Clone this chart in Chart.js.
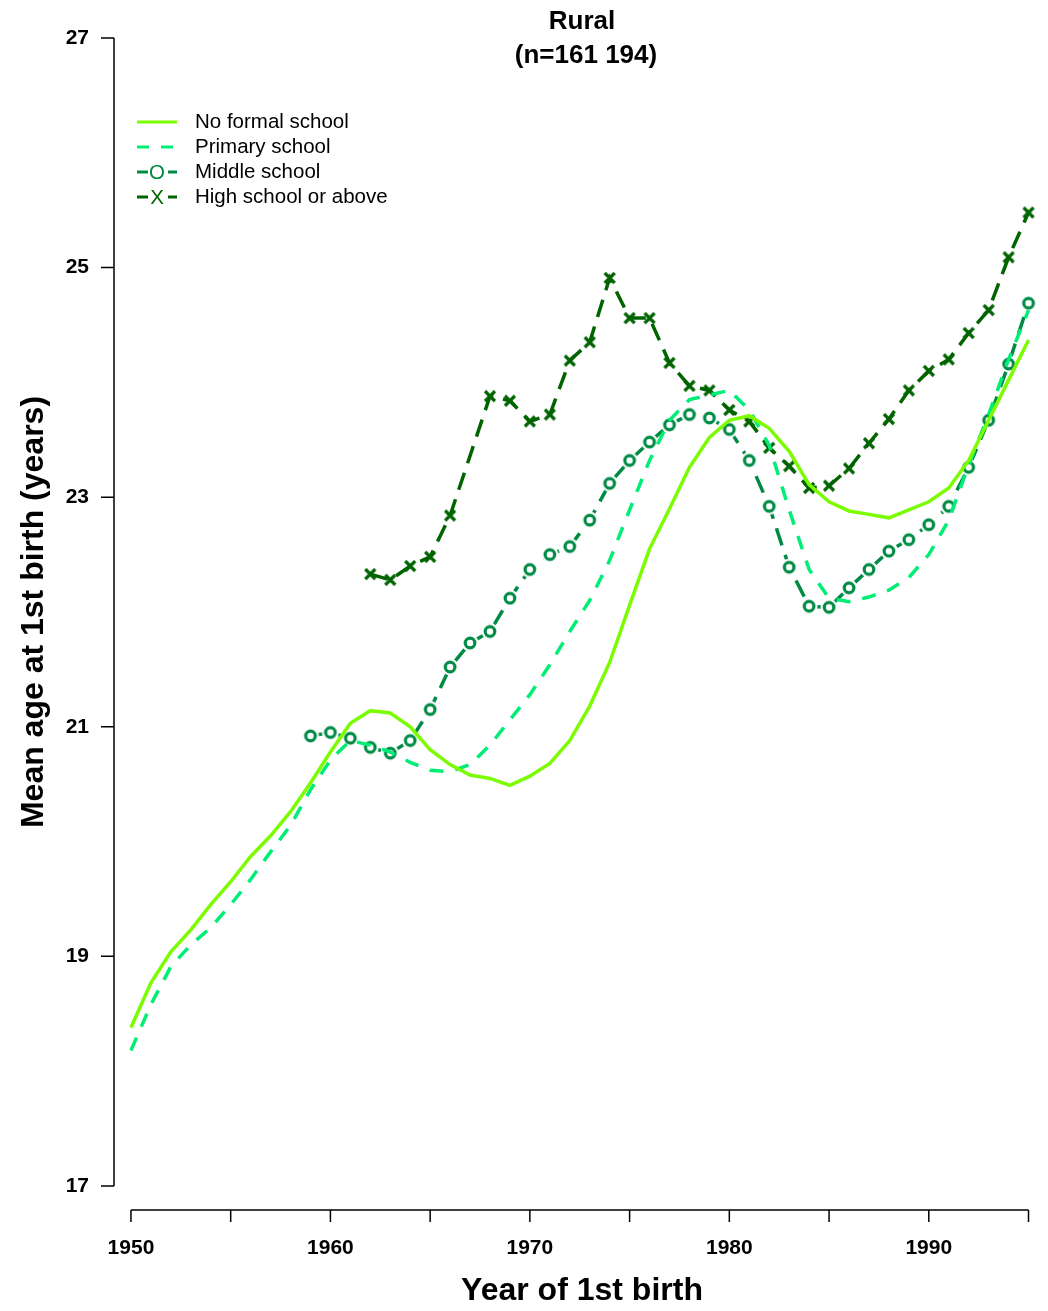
<!DOCTYPE html>
<html>
<head>
<meta charset="utf-8">
<script src="https://cdn.jsdelivr.net/npm/chart.js@4"></script>
<style>
  html, body { margin: 0; padding: 0; background: #fff; }
  #wrap { width: 1048px; height: 1311px; }
</style>
</head>
<body>
<div id="wrap"><canvas id="chart" width="1048" height="1311"></canvas></div>
<script>
// ---- data ----
const years = [];
for (let y = 1950; y <= 1995; y++) years.push(y);

const noFormal = [18.38, 18.77, 19.04, 19.23, 19.45, 19.65, 19.87, 20.05, 20.26, 20.51,
  20.78, 21.03, 21.14, 21.12, 21.0, 20.8, 20.67, 20.58, 20.55, 20.49,
  20.57, 20.68, 20.88, 21.18, 21.56, 22.06, 22.55, 22.9, 23.26, 23.52,
  23.67, 23.71, 23.6, 23.4, 23.11, 22.96, 22.88, 22.85, 22.82, 22.89,
  22.96, 23.08, 23.32, 23.67, 24.02, 24.37];
const primary = [18.18, 18.58, 18.91, 19.1, 19.25, 19.45, 19.67, 19.91, 20.14, 20.45,
  20.71, 20.88, 20.84, 20.78, 20.69, 20.62, 20.61, 20.67, 20.84, 21.06,
  21.28, 21.54, 21.83, 22.1, 22.45, 22.89, 23.32, 23.67, 23.85, 23.89,
  23.93, 23.76, 23.45, 22.89, 22.37, 22.12, 22.09, 22.13, 22.19, 22.3,
  22.5, 22.8, 23.28, 23.72, 24.2, 24.63];
const middleYears = years.filter(y => y >= 1959);
const middle = [20.92, 20.95, 20.9, 20.82, 20.77, 20.88, 21.15, 21.52, 21.73, 21.83,
  22.12, 22.37, 22.5, 22.57, 22.8, 23.12, 23.32, 23.48, 23.63, 23.72,
  23.69, 23.59, 23.32, 22.92, 22.39, 22.05, 22.04, 22.21, 22.37, 22.53,
  22.63, 22.76, 22.92, 23.26, 23.67, 24.16, 24.69];
const highYears = years.filter(y => y >= 1962);
const high = [22.33, 22.28, 22.4, 22.48, 22.84, null, 23.88, 23.84, 23.66, 23.72,
  24.19, 24.35, 24.91, 24.56, 24.56, 24.17, 23.97, 23.93, 23.76, 23.66,
  23.43, 23.27, 23.08, 23.1, 23.25, 23.47, 23.68, 23.93, 24.1, 24.2,
  24.43, 24.63, 25.09, 25.48];

const yTicks = [17, 19, 21, 23, 25, 27];
const xTicks = [1950, 1955, 1960, 1965, 1970, 1975, 1980, 1985, 1990, 1995];

const C_NO = '#7CFC00', C_PRI = '#00EE76', C_MID = '#008B45', C_HIGH = '#006400';

const pts = (xs, ys) => xs.map((x, i) => ({ x: x, y: ys[i] }));

// circle / cross markers like R pch 1 and 4
function markerCanvas(kind, color) {
  const c = document.createElement('canvas');
  c.width = 20; c.height = 20;
  const g = c.getContext('2d');
  g.strokeStyle = color; g.lineWidth = 3.2;
  if (kind === 'o') {
    g.fillStyle = '#fff';
    g.beginPath(); g.arc(10, 10, 8.5, 0, Math.PI * 2); g.fill();
    g.beginPath(); g.arc(10, 10, 4.8, 0, Math.PI * 2); g.stroke();
  } else {
    g.beginPath(); g.moveTo(5, 5); g.lineTo(15, 15);
    g.moveTo(15, 5); g.lineTo(5, 15); g.stroke();
  }
  return c;
}

// R-style axes, titles and legend
const decor = {
  id: 'decor',
  afterDraw(chart) {
    const ctx = chart.ctx, xs = chart.scales.x, ys = chart.scales.y;
    ctx.save();
    ctx.strokeStyle = '#000'; ctx.lineWidth = 1.5;
    ctx.beginPath();
    ctx.moveTo(114, ys.getPixelForValue(17)); ctx.lineTo(114, ys.getPixelForValue(27));
    ctx.moveTo(xs.getPixelForValue(1950), 1210); ctx.lineTo(xs.getPixelForValue(1995), 1210);
    yTicks.forEach(v => { const p = ys.getPixelForValue(v); ctx.moveTo(114, p); ctx.lineTo(101, p); });
    xTicks.forEach(v => { const p = xs.getPixelForValue(v); ctx.moveTo(p, 1210); ctx.lineTo(p, 1222); });
    ctx.stroke();

    ctx.fillStyle = '#000';
    ctx.font = 'bold 21px "Liberation Sans", Arial, sans-serif';
    ctx.textAlign = 'right'; ctx.textBaseline = 'middle';
    yTicks.forEach(v => ctx.fillText(String(v), 89, ys.getPixelForValue(v)));
    ctx.textAlign = 'center'; ctx.textBaseline = 'middle';
    [1950, 1960, 1970, 1980, 1990].forEach(v => ctx.fillText(String(v), xs.getPixelForValue(v), 1248));

    ctx.font = 'bold 32px "Liberation Sans", Arial, sans-serif';
    ctx.fillText('Year of 1st birth', 582, 1291);
    ctx.save();
    ctx.translate(34, 612); ctx.rotate(-Math.PI / 2);
    ctx.fillText('Mean age at 1st birth (years)', 0, 0);
    ctx.restore();

    ctx.font = 'bold 26px "Liberation Sans", Arial, sans-serif';
    ctx.fillText('Rural', 582, 22);
    ctx.fillText('(n=161 194)', 586, 56);

    // legend
    const items = [
      { t: 'No formal school', c: C_NO, d: [], m: null },
      { t: 'Primary school', c: C_PRI, d: [12, 12], m: null },
      { t: 'Middle school', c: C_MID, d: null, m: 'o' },
      { t: 'High school or above', c: C_HIGH, d: null, m: 'x' }
    ];
    ctx.font = '20.5px "Liberation Sans", Arial, sans-serif';
    ctx.textAlign = 'left';
    items.forEach((it, i) => {
      const y = 122 + i * 25;
      ctx.strokeStyle = it.c; ctx.lineWidth = 3;
      if (it.m) {
        ctx.setLineDash([]);
        ctx.beginPath(); ctx.moveTo(137, y); ctx.lineTo(148, y);
        ctx.moveTo(168, y); ctx.lineTo(177, y); ctx.stroke();
        ctx.fillStyle = it.c;
        ctx.textAlign = 'center';
        ctx.fillText(it.m === 'o' ? 'O' : 'X', 157, y + 1);
        ctx.textAlign = 'left';
      } else {
        ctx.setLineDash(it.d);
        ctx.beginPath(); ctx.moveTo(137, y); ctx.lineTo(177, y); ctx.stroke();
        ctx.setLineDash([]);
      }
      ctx.fillStyle = '#000';
      ctx.fillText(it.t, 195, y);
    });
    ctx.restore();
  }
};

new Chart(document.getElementById('chart'), {
  type: 'line',
  data: {
    datasets: [
      { data: pts(years, noFormal), borderColor: C_NO, borderWidth: 3.5, pointRadius: 0, tension: 0 },
      { data: pts(years, primary), borderColor: C_PRI, borderWidth: 3.5, borderDash: [14, 12], pointRadius: 0 },
      { data: pts(middleYears, middle), borderColor: C_MID, borderWidth: 3.5, borderDash: [18, 10],
        pointStyle: markerCanvas('o', C_MID), pointRadius: 8 },
      { data: pts(highYears, high), borderColor: C_HIGH, borderWidth: 3.5, borderDash: [18, 10], spanGaps: true,
        pointStyle: markerCanvas('x', C_HIGH), pointRadius: 8 }
    ]
  },
  options: {
    responsive: false,
    animation: false,
    layout: { padding: { top: 30, right: 8, left: 0, bottom: 0 } },
    plugins: { legend: { display: false }, tooltip: { enabled: false } },
    scales: {
      x: {
        type: 'linear', min: 1949.15, max: 1995.4,
        afterFit(s) { s.height = 101; },
        grid: { display: false }, border: { display: false },
        ticks: { display: false }
      },
      y: {
        min: 16.79, max: 27.07,
        afterFit(s) { s.width = 114; },
        grid: { display: false }, border: { display: false },
        ticks: { display: false }
      }
    }
  },
  plugins: [decor]
});
</script>
</body>
</html>
